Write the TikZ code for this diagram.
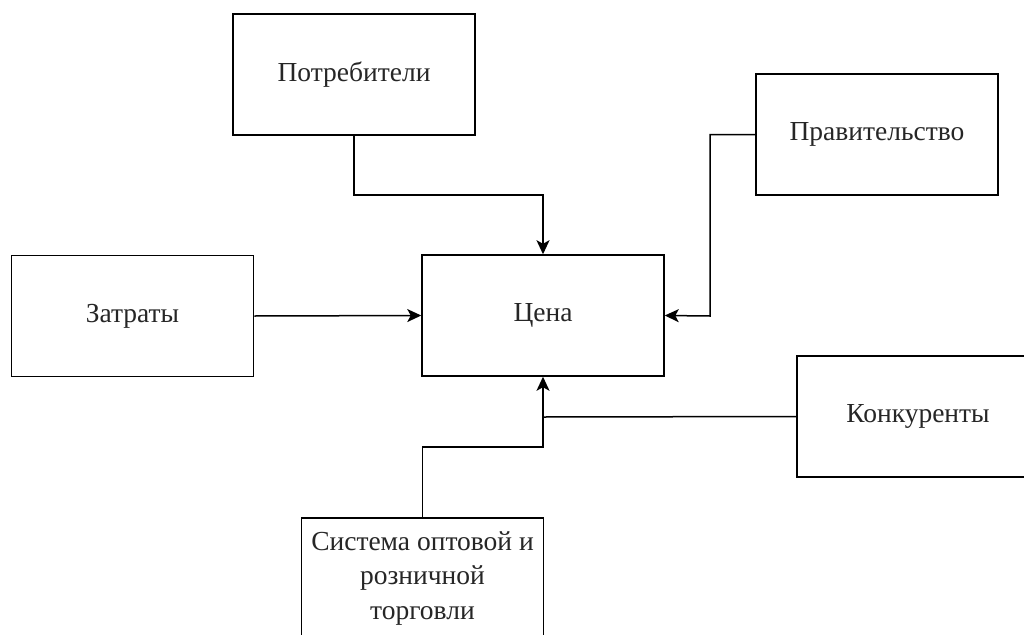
\documentclass[tikz,border=0pt]{standalone}
\usepackage{fontspec}
\setmainfont{Liberation Serif}
\usetikzlibrary{arrows.meta}
\begin{document}
\begin{tikzpicture}[x=1pt,y=-1pt,
  box/.style={draw=black, line width=1.5pt, minimum width=242pt, minimum height=121pt,
    inner sep=0pt, align=center, font=\fontsize{27.5}{34.5}\selectfont, text=black!85},
  conn/.style={line width=1.5pt, draw=black},
  arr/.style={conn, -{Stealth[length=14pt,width=13pt,inset=3.5pt]}}]
\useasboundingbox (0,0) rectangle (1024,634);
\fill[white] (0,0) rectangle (1024,634);
\begin{scope}
\clip (0,0) rectangle (1024,634);
\node[box] (potr) at (354,74.5) {Потребители};
\node[box] (zatr) at (132.5,316) {Затраты};
\node[box] (cena) at (543,315.5) {Цена};
\node[box] (prav) at (877,134.5) {Правительство};
\node[box] (konk) at (918,416.5) {Конкуренты};
\node[box] (sist) at (422.5,578.5) {Система оптовой и\\розничной\\торговли};
\coordinate (j) at (543,417);
\draw[arr] (potr.south) |- (543,195) -- (cena.north);
\draw[arr] (zatr.east) -- (cena.west);
\draw[arr] (prav.west) -| (710,316) -- (cena.east);
\draw[conn] (konk.west) -- (j);
\draw[arr] (sist.north) |- (543,447) -- (cena.south);
\end{scope}
\end{tikzpicture}
\end{document}
